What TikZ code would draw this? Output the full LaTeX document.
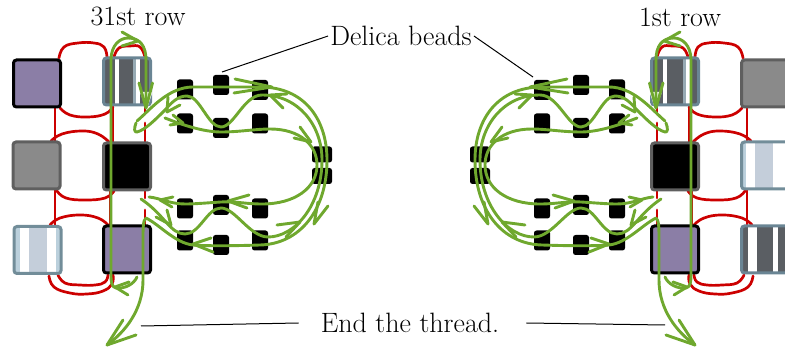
\documentclass[tikz,border=0pt]{standalone}
\definecolor{thread}{HTML}{6FA82E}
\definecolor{redthread}{HTML}{CC0000}
\definecolor{purplebead}{HTML}{8B7EA6}
\definecolor{greybead}{HTML}{8A8A8A}
\definecolor{greyedge}{HTML}{5F5F5F}
\definecolor{darkstripe}{HTML}{5A5E63}
\definecolor{darkedge}{HTML}{6A8594}
\definecolor{lightbase}{HTML}{BBD0DC}
\definecolor{lightstripe}{HTML}{C4CEDA}
\definecolor{lightedge}{HTML}{728D99}
\tikzset{
  bigbead/.style={rectangle,rounded corners=3pt,minimum width=47pt,minimum height=47pt,inner sep=0pt,line width=3pt},
  smallbead/.style={rectangle,rounded corners=2.5pt,fill=black,minimum width=16pt,minimum height=20pt,inner sep=0pt},
  sidebead/.style={rectangle,rounded corners=2.5pt,fill=black,minimum width=20pt,minimum height=16pt,inner sep=0pt},
  rd/.style={draw=redthread,line width=2.7pt,line cap=round},
  gr/.style={draw=thread,line width=2.9pt,line cap=round,line join=round},
  lead/.style={draw=black,line width=1pt},
  lab/.style={font=\fontsize{28}{32}\selectfont,inner sep=2pt},
}
\newcommand{\sm}[1]{plot[smooth,tension=0.75] coordinates {#1}}
\newcommand{\hd}[3]{\draw[gr] #2 -- #1 -- #3;}
\newcommand{\redpart}{%
  \draw[rd] \sm{(59,58) (64,47) (78,43) (94,43) (104,47) (107,57)};
  \draw[rd] \sm{(114,57) (119,48) (130,46) (140,47) (145,57)};
  \draw[rd] \sm{(60,108) (70,115) (88,117) (105,114) (113,107)};
  \draw[rd] (55,108) -- (55,141);
  \draw[rd] \sm{(51,141) (62,134) (82,131) (98,134) (109,142)};
  \draw[rd] (113,107) -- (113,142);
  \draw[rd] (145,107) -- (145,114);
  \draw[rd] (145,123) -- (145,142);
  \draw[rd] \sm{(57,191) (66,198) (85,200) (105,198) (114,191)};
  \draw[rd] (55,190) -- (55,225);
  \draw[rd] \sm{(50,225) (60,218) (80,215) (98,218) (108,225)};
  \draw[rd] (110,190) -- (110,225);
  \draw[rd] (145,191) -- (145,198);
  \draw[rd] (145,210) -- (145,225);
  \draw[rd] \sm{(58,275) (65,283) (80,285) (95,285) (105,282) (108,275)};
  \draw[rd] \sm{(49,276) (54,287) (70,293) (87,294) (103,291) (112,284) (113,275)};
}
\newcommand{\smallpart}[1]{%
  \node[smallbead] (#1a1) at (185,89.5) {};
  \node[smallbead] (#1a2) at (221,85) {};
  \node[smallbead] (#1a3) at (260,90) {};
  \node[smallbead] (#1b1) at (185,123.5) {};
  \node[smallbead] (#1b2) at (221,128) {};
  \node[smallbead] (#1b3) at (260,123.5) {};
  \node[smallbead] (#1c1) at (185,208.5) {};
  \node[smallbead] (#1c2) at (221,205) {};
  \node[smallbead] (#1c3) at (260,208.5) {};
  \node[smallbead] (#1d1) at (185,240.5) {};
  \node[smallbead] (#1d2) at (221,245) {};
  \node[smallbead] (#1d3) at (260,240.5) {};
  \node[sidebead] (#1e1) at (322,154.5) {};
  \node[sidebead] (#1e2) at (322,176) {};
}
\newcommand{\greenpart}{%
  \fill[white] (140,92) -- (152.5,92) -- (146.5,110) -- cycle;
  % first thread: out of the lower big bead, up, over and down
  \draw[gr] (137,277) .. controls (134,284) and (125,289) .. (116,288) .. controls (112,287) and (111,283) .. (111,275) -- (111,60) .. controls (111,45) and (120,38) .. (128,38) .. controls (140,38) and (146,46) .. (146,60) -- (146,108);
  \hd{(115,287)}{(129,282)}{(128,295)}
  \hd{(138,41)}{(122,32)}{(122,46)}
  \hd{(146,108)}{(139,83)}{(152.5,83)}
  % outer loop
  \draw[gr] (137,121) .. controls (150,110) and (168,87) .. (193,87) -- (260,87) .. controls (305,87) and (327,120) .. (327,160) .. controls (327,210) and (300,244) .. (260,245) .. controls (230,246) and (205,246) .. (193,245) .. controls (175,243) and (160,225) .. (146,218) .. controls (143,220) and (143,228) .. (143,240) -- (143,280) .. controls (143,310) and (125,332) .. (107,345);
  \hd{(272,87)}{(235,79)}{(234,93)}
  \hd{(314,224)}{(318,202)}{(328,206)}
  \hd{(193,244)}{(211,238)}{(213,252)}
  \hd{(107,345)}{(123,320)}{(136,335)}
  % middle loop
  \draw[gr] (136,123) .. controls (134,128) and (134,133) .. (137,132) .. controls (145,130) and (155,120) .. (165,110) .. controls (172,102) and (178,96) .. (187,96) .. controls (200,96) and (208,127) .. (221,127) .. controls (234,127) and (244,95) .. (262,95) .. controls (298,95) and (322,125) .. (322,160) .. controls (322,205) and (295,237) .. (268,237) .. controls (250,237) and (235,208) .. (221,208) .. controls (207,208) and (200,234) .. (185,234) .. controls (170,234) and (165,215) .. (141,199);
  \hd{(167,112)}{(168,97)}{(180,105)}
  \hd{(270,95)}{(287,94)}{(283,108)}
  \hd{(300,222)}{(277,225)}{(286,237)}
  \hd{(171,225)}{(167,210)}{(156,217)}
  % inner loop
  \draw[gr] (165,118) .. controls (185,126) and (205,132) .. (221,132) .. controls (240,132) and (255,129) .. (270,129) .. controls (300,129) and (317,145) .. (317,165) .. controls (317,188) and (295,204) .. (262,204) .. controls (245,204) and (235,201) .. (221,202) .. controls (205,203) and (195,204) .. (185,204) .. controls (170,204) and (160,198) .. (149,197);
  \hd{(183,123)}{(173,115)}{(170,125)}
  \hd{(311,142)}{(300,127)}{(294,138)}
  \hd{(228,201)}{(249,195)}{(247,208)}
  \hd{(160,200)}{(173,197)}{(172,207)}
}
\begin{document}
\begin{tikzpicture}[x=1pt,y=-1pt]
  \clip (0,0) rectangle (785,347);
  % red thread, both sides
  \redpart
  \begin{scope}[shift={(802,0)},xscale=-1]\redpart\end{scope}
  % left big beads
  \node[bigbead,fill=purplebead,draw=black] (l11) at (37,83.5) {};
  \node[bigbead,fill=darkstripe] (l12f) at (127,81.5) {};
  \fill[darkedge!70!white] (133,58) rectangle (136,105);
  \fill[white] (115,58) rectangle (119,105);
  \fill[white] (136,58) rectangle (140,105);
  \node[bigbead,draw=darkedge] (l12) at (127,81.5) {};
  \node[bigbead,fill=greybead,draw=greyedge] (l21) at (36.5,165.5) {};
  \node[bigbead,fill=black,draw=greyedge] (l22) at (127,166.5) {};
  \node[bigbead,fill=lightbase] (l31f) at (37.5,250) {};
  \fill[white] (20,227) rectangle (29,273);
  \fill[lightstripe] (29,227) rectangle (47,273);
  \fill[white] (47,227) rectangle (56,273);
  \node[bigbead,draw=lightedge] (l31) at (37.5,250) {};
  \node[bigbead,fill=purplebead,draw=black] (l32) at (127,249.5) {};
  % right big beads
  \node[bigbead,fill=darkstripe] (r12f) at (675,81.5) {};
  \fill[white] (663,58) rectangle (667,105);
  \fill[darkedge!70!white] (683,58) rectangle (686,105);
  \fill[white] (686,58) rectangle (690,105);
  \node[bigbead,draw=darkedge] (r12) at (675,81.5) {};
  \node[bigbead,fill=greybead,draw=greyedge] (r11) at (765,83.5) {};
  \node[bigbead,fill=black,draw=greyedge] (r22) at (675,166.5) {};
  \node[bigbead,fill=lightbase] (r21f) at (765,165.5) {};
  \fill[white] (746,143) rectangle (755,189);
  \fill[lightstripe] (755,143) rectangle (773,189);
  \fill[white] (773,143) rectangle (785,189);
  \node[bigbead,draw=lightedge] (r21) at (765,165.5) {};
  \node[bigbead,fill=purplebead,draw=black] (r32) at (675,249.5) {};
  \node[bigbead,fill=darkstripe] (r31f) at (765,249.5) {};
  \fill[white] (748,226) rectangle (757,273);
  \fill[white] (773,226) rectangle (778,273);
  \node[bigbead,draw=darkedge] (r31) at (765,249.5) {};
  % small beads
  \smallpart{l}
  \begin{scope}[shift={(802,0)},xscale=-1]\smallpart{r}\end{scope}
  % green thread, both sides
  \greenpart
  \begin{scope}[shift={(802,0)},xscale=-1]\greenpart\end{scope}
  % labels
  \node[lab] (row31) at (138,16) {31st row};
  \node[lab] (row1) at (680,17) {1st row};
  \node[lab] (delica) at (401,36) {Delica beads};
  \node[lab] (endt) at (410,323) {End the thread.};
  \coordinate (dl) at (222,72);
  \coordinate (dr) at (533,77);
  \coordinate (el) at (141,326);
  \coordinate (er) at (665,325);
  \draw[lead] (delica.west) -- (dl);
  \draw[lead] (delica.east) -- (dr);
  \draw[lead] ([xshift=-20pt]endt.west) -- (el);
  \draw[lead] ([xshift=25pt]endt.east) -- (er);
\end{tikzpicture}
\end{document}
